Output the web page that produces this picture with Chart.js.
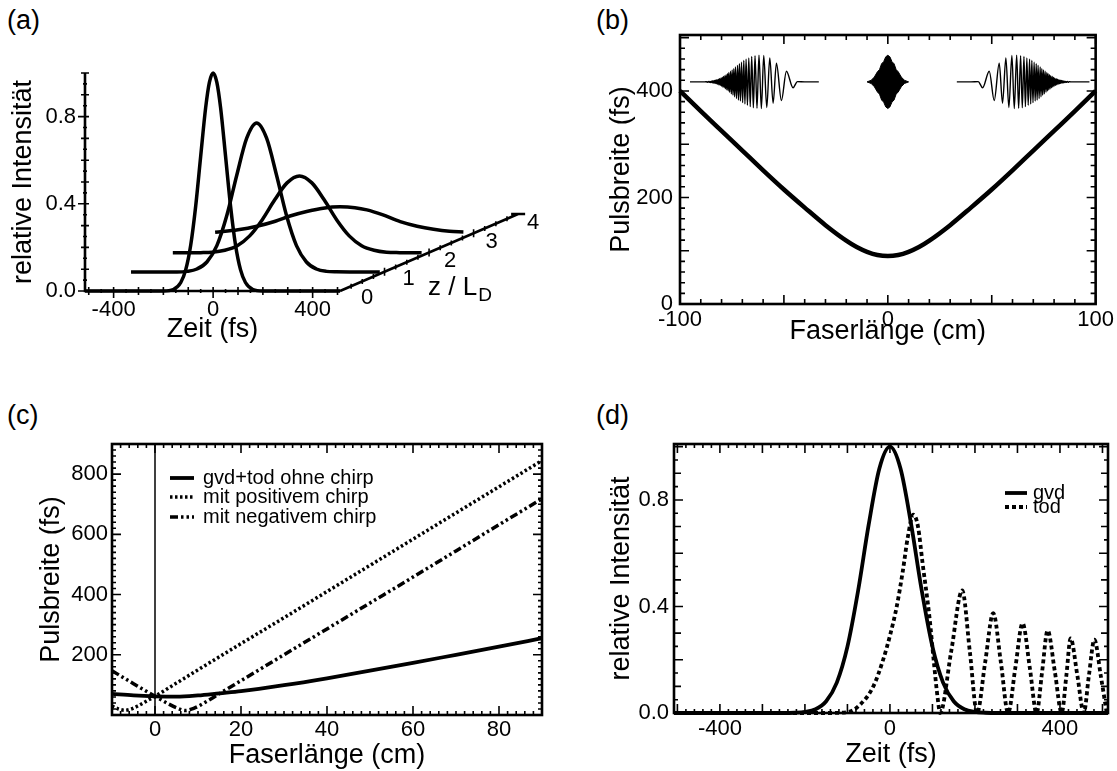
<!DOCTYPE html>
<html lang="de">
<head>
<meta charset="UTF-8">
<title>Pulsausbreitung in der Faser</title>
<script src="https://cdn.jsdelivr.net/npm/chart.js"></script>
<style>
  body { margin: 0; width: 1117px; height: 771px; background: #fff; position: relative; overflow: hidden;
         font-family: "Liberation Sans", Arial, sans-serif; }
  canvas { position: absolute; }
  .tag { position: absolute; font-size: 27px; line-height: 30px; color: #000; }
</style>
</head>
<body>
<div class="tag" style="left:7px;top:5px">(a)</div>
<div class="tag" style="left:596px;top:5px">(b)</div>
<div class="tag" style="left:7px;top:400px">(c)</div>
<div class="tag" style="left:596px;top:400px">(d)</div>
<canvas id="chartA" width="560" height="356" style="left:0;top:0"></canvas>
<canvas id="chartB" width="557" height="356" style="left:560px;top:0"></canvas>
<canvas id="chartC" width="560" height="393" style="left:0;top:380px"></canvas>
<canvas id="chartD" width="557" height="393" style="left:560px;top:380px"></canvas>

<script>
// ---- (a) pulse shapes at z/LD = 0..3, drawn as a waterfall
const aTime0 = [-515, -200, -160, -130, -110, -90, -70, -50, -30, -15, 0, 15, 30, 50, 70, 90, 110, 130, 160, 200, 510];
const aInt0  = [0, 0, 0.007, 0.039, 0.098, 0.211, 0.390, 0.618, 0.841, 0.957, 1, 0.957, 0.841, 0.618, 0.390, 0.211, 0.098, 0.039, 0.007, 0, 0];
const aTime1 = [-330, -145, -105, -65, -25, 15, 55, 95, 135, 175, 215, 255, 295, 335, 375, 415, 455, 495, 670];
const aInt1  = [0.087, 0.087, 0.090, 0.101, 0.133, 0.208, 0.346, 0.531, 0.701, 0.771, 0.701, 0.531, 0.346, 0.208, 0.133, 0.101, 0.090, 0.088, 0.087];
const aTime2 = [-162, -50, -3, 47, 97, 147, 197, 247, 297, 347, 397, 447, 497, 547, 597, 647, 697, 750, 838];
const aInt2  = [0.175, 0.176, 0.178, 0.187, 0.208, 0.253, 0.326, 0.417, 0.496, 0.528, 0.496, 0.417, 0.326, 0.253, 0.208, 0.187, 0.178, 0.176, 0.175];
const aTime3 = [8, 100, 176, 250, 309, 380, 442, 510, 570, 618, 680, 752, 820, 886, 950, 1006];
const aInt3  = [0.270, 0.281, 0.297, 0.320, 0.344, 0.366, 0.380, 0.386, 0.382, 0.372, 0.350, 0.318, 0.297, 0.283, 0.274, 0.271];
const aZAxis = [[510, 0], [1226, 0.353]];   // z/LD axis, from 0 to 4 (time, intensity units)
const aZLabels = ['0', '1', '2', '3', '4'];
const aTicksX = [-400, 0, 400];
const aTicksY = [0, 0.4, 0.8];

// ---- (b) pulse width vs fibre length, with field insets
const bLength = [-100, -90, -80, -70, -60, -50, -40, -30, -20, -15, -10, -5, 0, 5, 10, 15, 20, 30, 40, 50, 60, 70, 80, 90, 100];
const bWidth  = [400, 362, 325, 288, 251, 215, 181, 148, 119, 107, 98, 92, 90, 92, 98, 107, 119, 148, 181, 215, 251, 288, 325, 362, 400];
const bPulseLeftX = [-95.2, -88.0, -87.2, -86.8, -86.4, -86.0, -85.6, -85.2, -84.8, -84.5, -84.2, -83.85, -83.5, -83.2, -82.9, -82.6,
  -82.3, -81.95, -81.6, -81.3, -81.0, -80.65, -80.3, -80.0, -79.7, -79.4, -79.1, -78.75, -78.4, -78.1, -77.8, -77.45, -77.1, -76.8,
  -76.5, -76.1, -75.7, -75.3, -74.9, -74.5, -74.1, -73.7, -73.3, -72.8, -72.3, -71.85, -71.4, -70.9, -70.4, -69.85, -69.3, -68.75,
  -68.2, -67.55, -66.9, -66.2, -65.5, -64.7, -63.9, -62.95, -62.0, -60.85, -59.7, -58.25, -56.8, -55.2, -53.6, -51.2, -48.8, -45.6,
  -43.5, -40.0, -33.2];
const bPulseLeftY = [417, 417, 417.5, 416.3, 417.8, 416, 418, 415.7, 418.5, 415.2, 419, 414.8, 419.5, 414.2, 420, 413.5,
  421, 412.5, 422, 411.5, 423, 410.5, 424, 409, 425.5, 407.5, 427, 406, 428.5, 404, 430.5, 402, 432.5, 400,
  434.5, 397.5, 437, 394.5, 439.5, 392, 442, 389, 445, 386, 448, 383, 451, 381, 454, 378, 457, 375.5,
  459.5, 373, 462, 370.5, 464.5, 368.5, 466, 367.5, 467, 367, 466.5, 369, 462, 377, 452, 382, 437, 406,
  417.5, 417, 417];
const bPulseMidX      = [-10, -8, -6.5, -5, -4, -3, -2, -1, 0, 1, 2, 3, 4, 5, 6.5, 8, 10];
const bPulseMidTop    = [417, 420, 426, 436, 440, 451, 455, 464, 467, 464, 455, 451, 440, 436, 426, 420, 417];
const bPulseMidBottom = [417, 414, 408, 398, 394, 383, 379, 370, 367, 370, 379, 383, 394, 398, 408, 414, 417];
const bPulseRightX = [33.2, 40.0, 43.5, 45.6, 48.8, 51.2, 53.6, 55.2, 56.8, 58.25, 59.7, 60.85, 62.0, 62.95, 63.9, 64.7, 65.5,
  66.2, 66.9, 67.55, 68.2, 68.75, 69.3, 69.85, 70.4, 70.9, 71.4, 71.85, 72.3, 72.8, 73.3, 73.7, 74.1, 74.5, 74.9, 75.3, 75.7,
  76.1, 76.5, 76.8, 77.1, 77.45, 77.8, 78.1, 78.4, 78.75, 79.1, 79.4, 79.7, 80.0, 80.3, 80.65, 81.0, 81.3, 81.6, 81.95, 82.3,
  82.6, 82.9, 83.2, 83.5, 83.85, 84.2, 84.5, 84.8, 85.2, 85.6, 86.0, 86.4, 86.8, 87.2, 88.0, 97.0];
const bPulseRightY = [417, 417, 417.5, 406, 437, 382, 452, 377, 462, 369, 466.5, 367, 467, 367.5, 466, 368.5, 464.5,
  370.5, 462, 373, 459.5, 375.5, 457, 378, 454, 381, 451, 383, 448, 386, 445, 389, 442, 392, 439.5, 394.5, 437,
  397.5, 434.5, 400, 432.5, 402, 430.5, 404, 428.5, 406, 427, 407.5, 425.5, 409, 424, 410.5, 423, 411.5, 422, 412.5, 421,
  413.5, 420, 414.2, 419.5, 414.8, 419, 415.2, 418.5, 415.7, 418, 416, 417.8, 416.3, 417.5, 417, 417];
const bTicksX = [-100, 0, 100];
const bTicksY = [0, 200, 400];

// ---- (c) pulse width with gvd+tod, with and without chirp
const cLength   = [-10, -5, 0, 5, 10, 15, 20, 30, 40, 50, 60, 70, 80, 90];
const cNoChirp  = [70, 65, 62, 61, 65, 72, 79, 99, 122, 147, 173, 200, 227, 255];
const cPosLength = [-10, -8.5, -7, -5.5, -4, -2, 0, 5, 10, 20, 30, 40, 50, 60, 70, 80, 90];
const cPosChirp  = [30, 20, 16, 20, 30, 46, 62, 106, 150, 237, 323, 410, 497, 584, 671, 758, 845];
const cNegLength = [-10, -5, 0, 3, 5, 7, 9, 12, 15, 20, 30, 40, 50, 60, 70, 80, 90];
const cNegChirp  = [147, 104, 62, 38, 24, 15, 22, 45, 71, 114, 200, 286, 372, 458, 545, 632, 718];
const cZeroX = [0, 0];
const cZeroY = [0, 900];
const cLegend = ['gvd+tod ohne chirp', 'mit positivem chirp', 'mit negativem chirp'];
const cTicksX = [0, 20, 40, 60, 80];
const cTicksY = [200, 400, 600, 800];

// ---- (d) pulse shape after gvd and after tod
const dTime = [-508, -250, -225, -200, -175, -150, -125, -100, -75, -50, -25, 0, 25, 50, 75, 100, 125, 150, 175, 200, 225, 250, 513];
const dGvd  = [0, 0, 0.001, 0.004, 0.014, 0.044, 0.114, 0.249, 0.458, 0.707, 0.917, 1, 0.917, 0.707, 0.458, 0.249, 0.114, 0.044, 0.014, 0.004, 0.001, 0, 0];
const dTodTime = [-508, -150, -100, -71, -39, -16, 0, 16, 30, 42, 55, 66, 77, 93, 104, 112, 118, 144, 170, 188, 205, 224, 243,
  261, 278, 295, 312, 329, 345, 358, 371, 388, 404, 415, 425, 441, 456, 468, 481, 496, 510];
const dTod = [0, 0, 0.003, 0.03, 0.1, 0.2, 0.29, 0.4, 0.53, 0.66, 0.745, 0.70, 0.56, 0.36, 0.18, 0.06, 0, 0.23, 0.46, 0.23, 0, 0.19, 0.375,
  0.19, 0, 0.17, 0.337, 0.17, 0, 0.155, 0.31, 0.155, 0, 0.14, 0.28, 0.14, 0, 0.14, 0.275, 0.14, 0];
const dLegend = ['gvd', 'tod'];
const dTicksX = [-400, 0, 400];
const dTicksY = [0, 0.4, 0.8];

const FONT = '"Liberation Sans", Arial, sans-serif';
Chart.defaults.font.family = FONT;
Chart.defaults.color = '#000';

function pts(xs, ys) {
  return xs.map((x, i) => ({ x: x, y: ys[i] }));
}

function line(data, width, dash, extra) {
  return Object.assign({
    data: data, borderColor: '#000', backgroundColor: '#000', borderWidth: width,
    borderDash: dash || [], pointRadius: 0, fill: false, cubicInterpolationMode: 'monotone'
  }, extra || {});
}

// bounds are set after the data limits so that points beyond the range are still drawn (panel a)
function axis(min, max, ticks, title, size, labelPad, digits) {
  return {
    type: 'linear', bounds: 'data',
    afterDataLimits: s => { s.min = min; s.max = max; },
    afterBuildTicks: s => { s.ticks = ticks.map(v => ({ value: v })); },
    afterFit: s => { if (s.isHorizontal()) s.height = size; else s.width = size; },
    grid: { display: false, drawTicks: false },
    border: { display: false },
    ticks: { font: { size: 22 }, padding: labelPad, maxRotation: 0, autoSkip: false,
             callback: v => digits ? v.toFixed(digits) : String(v) },
    title: { display: true, text: title, font: { size: 27 }, padding: { top: 4, bottom: 0 } }
  };
}

// frame, inward ticks, open axes and hand-made legends
const decoPlugin = {
  id: 'deco',
  afterDatasetsDraw(chart, args, o) {
    if (!o || (!o.box && !o.open)) return;
    const ctx = chart.ctx, a = chart.chartArea, x = chart.scales.x, y = chart.scales.y;
    ctx.save();
    ctx.strokeStyle = '#000';
    ctx.fillStyle = '#000';

    function each(scale, step, fn) {
      for (let i = Math.ceil(scale.min / step - 1e-6); i * step <= scale.max + 1e-6; i++) {
        fn(scale.getPixelForValue(i * step));
      }
    }

    if (o.box) {
      ctx.lineWidth = 1.6;
      ctx.beginPath();
      o.xTicks.forEach(t => each(x, t.step, px => {
        ctx.moveTo(px, a.bottom); ctx.lineTo(px, a.bottom - t.len);
        ctx.moveTo(px, a.top); ctx.lineTo(px, a.top + t.len);
      }));
      o.yTicks.forEach(t => each(y, t.step, py => {
        ctx.moveTo(a.left, py); ctx.lineTo(a.left + t.len, py);
        ctx.moveTo(a.right, py); ctx.lineTo(a.right - t.len, py);
      }));
      ctx.stroke();
      ctx.lineWidth = 2.6;
      ctx.strokeRect(a.left, a.top, a.right - a.left, a.bottom - a.top);
    }

    if (o.open) {
      const y0 = y.getPixelForValue(0);
      const zs = { x: x.getPixelForValue(o.zAxis[0][0]), y: y.getPixelForValue(o.zAxis[0][1]) };
      const ze = { x: x.getPixelForValue(o.zAxis[1][0]), y: y.getPixelForValue(o.zAxis[1][1]) };
      ctx.lineWidth = 2.6;
      ctx.beginPath();
      ctx.moveTo(a.left, y.getPixelForValue(1));
      ctx.lineTo(a.left, y0);
      ctx.lineTo(a.right, y0);
      ctx.moveTo(zs.x, zs.y);
      ctx.lineTo(ze.x, ze.y);
      ctx.moveTo(ze.x - 7, ze.y);
      ctx.lineTo(ze.x + 7, ze.y);
      ctx.stroke();

      ctx.lineWidth = 1.6;
      ctx.beginPath();
      o.yTicks.forEach(t => each(y, t.step, py => {
        if (py < a.top - 1) return;
        ctx.moveTo(a.left - t.out, py); ctx.lineTo(a.left + t.in, py);
      }));
      o.xTicks.forEach(t => each(x, t.step, px => {
        ctx.moveTo(px, y0 + t.out); ctx.lineTo(px, y0 - t.in);
      }));
      const n = o.zLabels.length - 1;
      for (let k = 1; k < n * 4; k++) {
        const px = zs.x + (ze.x - zs.x) * k / (n * 4);
        const py = zs.y + (ze.y - zs.y) * k / (n * 4);
        const len = k % 4 === 0 ? 4 : 2.5;
        ctx.moveTo(px, py - len); ctx.lineTo(px, py + len);
      }
      ctx.stroke();

      ctx.font = '22px ' + FONT;
      ctx.textAlign = 'center';
      ctx.textBaseline = 'middle';
      o.zLabels.forEach((lab, k) => {
        const px = zs.x + (ze.x - zs.x) * k / n;
        const py = zs.y + (ze.y - zs.y) * k / n;
        ctx.fillText(lab, px + 27 - 3 * k, py + 7 + 0.5 * k);
      });
      ctx.textAlign = 'left';
      ctx.textBaseline = 'alphabetic';
      ctx.font = '26px ' + FONT;
      const tx = zs.x + 88, ty = y0 + 4;
      ctx.fillText('z / L', tx, ty);
      const w = ctx.measureText('z / L').width;
      ctx.font = '19px ' + FONT;
      ctx.fillText('D', tx + w + 1, ty + 6);
    }

    if (o.legend) {
      ctx.font = '20px ' + FONT;
      ctx.textAlign = 'left';
      ctx.textBaseline = 'middle';
      o.legend.forEach(item => {
        const ds = chart.data.datasets[item.ds];
        const yy = a.top + item.dy;
        ctx.lineWidth = ds.borderWidth;
        ctx.setLineDash(ds.borderDash || []);
        ctx.beginPath();
        ctx.moveTo(a.left + item.x0, yy);
        ctx.lineTo(a.left + item.x1, yy);
        ctx.stroke();
        ctx.setLineDash([]);
        ctx.fillText(item.text, a.left + item.tx, yy);
      });
    }
    ctx.restore();
  }
};
Chart.register(decoPlugin);

function makeChart(id, datasets, pad, scales, deco) {
  return new Chart(document.getElementById(id), {
    type: 'line',
    data: { datasets: datasets },
    options: {
      responsive: false, animation: false, devicePixelRatio: 1, events: [],
      layout: { padding: pad },
      plugins: { legend: { display: false }, tooltip: { enabled: false }, deco: deco },
      scales: scales
    }
  });
}

// (a)
makeChart('chartA', [
  line(pts(aTime0, aInt0), 3.5, null, { clip: false }),
  line(pts(aTime1, aInt1), 3.5, null, { clip: false }),
  line(pts(aTime2, aInt2), 3.5, null, { clip: false }),
  line(pts(aTime3, aInt3), 3.5, null, { clip: false })
], { left: 3, top: 73, right: 220, bottom: 10 }, {
  x: axis(-515, 510, aTicksX, 'Zeit (fs)', 55, 6),
  y: axis(0, 1, aTicksY, 'relative Intensität', 82, 9, 1)
}, {
  open: true, zAxis: aZAxis, zLabels: aZLabels,
  xTicks: [{ step: 50, in: 2, out: 2 }, { step: 100, in: 4, out: 4 }, { step: 400, in: 4, out: 7 }],
  yTicks: [{ step: 0.05, in: 2, out: 2 }, { step: 0.1, in: 4, out: 4 }, { step: 0.4, in: 4, out: 7 }]
});

// (b)
makeChart('chartB', [
  line(pts(bLength, bWidth), 4.5),
  line(pts(bPulseLeftX, bPulseLeftY), 1.4),
  line(pts(bPulseMidX, bPulseMidTop), 1, null, { fill: '+1', cubicInterpolationMode: 'default' }),
  line(pts(bPulseMidX, bPulseMidBottom), 1, null, { cubicInterpolationMode: 'default' }),
  line(pts(bPulseRightX, bPulseRightY), 1.4)
], { left: 41, top: 35, right: 20, bottom: 8 }, {
  x: axis(-100, 100, bTicksX, 'Faserlänge (cm)', 44, 3),
  y: axis(0, 505, bTicksY, 'Pulsbreite (fs)', 79, 7)
}, {
  box: true,
  xTicks: [{ step: 10, len: 5 }, { step: 50, len: 9 }],
  yTicks: [{ step: 20, len: 5 }, { step: 100, len: 9 }]
});

// (c)
makeChart('chartC', [
  line(pts(cLength, cNoChirp), 3.8),
  line(pts(cPosLength, cPosChirp), 3.5, [2.5, 2.5]),
  line(pts(cNegLength, cNegChirp), 3.5, [8, 3, 2.5, 3, 2.5, 3]),
  line(pts(cZeroX, cZeroY), 1.5)
], { left: 31, top: 64, right: 18, bottom: 1 }, {
  x: axis(-10, 90, cTicksX, 'Faserlänge (cm)', 57, 2),
  y: axis(0, 900, cTicksY, 'Pulsbreite (fs)', 81, 4)
}, {
  box: true,
  xTicks: [{ step: 2, len: 4 }, { step: 20, len: 9 }],
  yTicks: [{ step: 20, len: 4 }, { step: 200, len: 9 }],
  legend: [
    { ds: 0, text: cLegend[0], dy: 34, x0: 58, x1: 82, tx: 91 },
    { ds: 1, text: cLegend[1], dy: 53, x0: 58, x1: 82, tx: 91 },
    { ds: 2, text: cLegend[2], dy: 73, x0: 58, x1: 82, tx: 91 }
  ]
});

// (d)
makeChart('chartD', [
  line(pts(dTime, dGvd), 3.8),
  line(pts(dTodTime, dTod), 3.8, [4, 3])
], { left: 41, top: 64, right: 9, bottom: 2 }, {
  x: axis(-508, 513, dTicksX, 'Zeit (fs)', 58, 3),
  y: axis(0, 1.01, dTicksY, 'relative Intensität', 73, 5, 1)
}, {
  box: true,
  xTicks: [{ step: 20, len: 4 }, { step: 100, len: 9 }],
  yTicks: [{ step: 0.05, len: 4 }, { step: 0.1, len: 7 }, { step: 0.2, len: 9 }],
  legend: [
    { ds: 0, text: dLegend[0], dy: 49, x0: 331, x1: 353, tx: 359 },
    { ds: 1, text: dLegend[1], dy: 63, x0: 331, x1: 353, tx: 359 }
  ]
});
</script>
</body>
</html>
